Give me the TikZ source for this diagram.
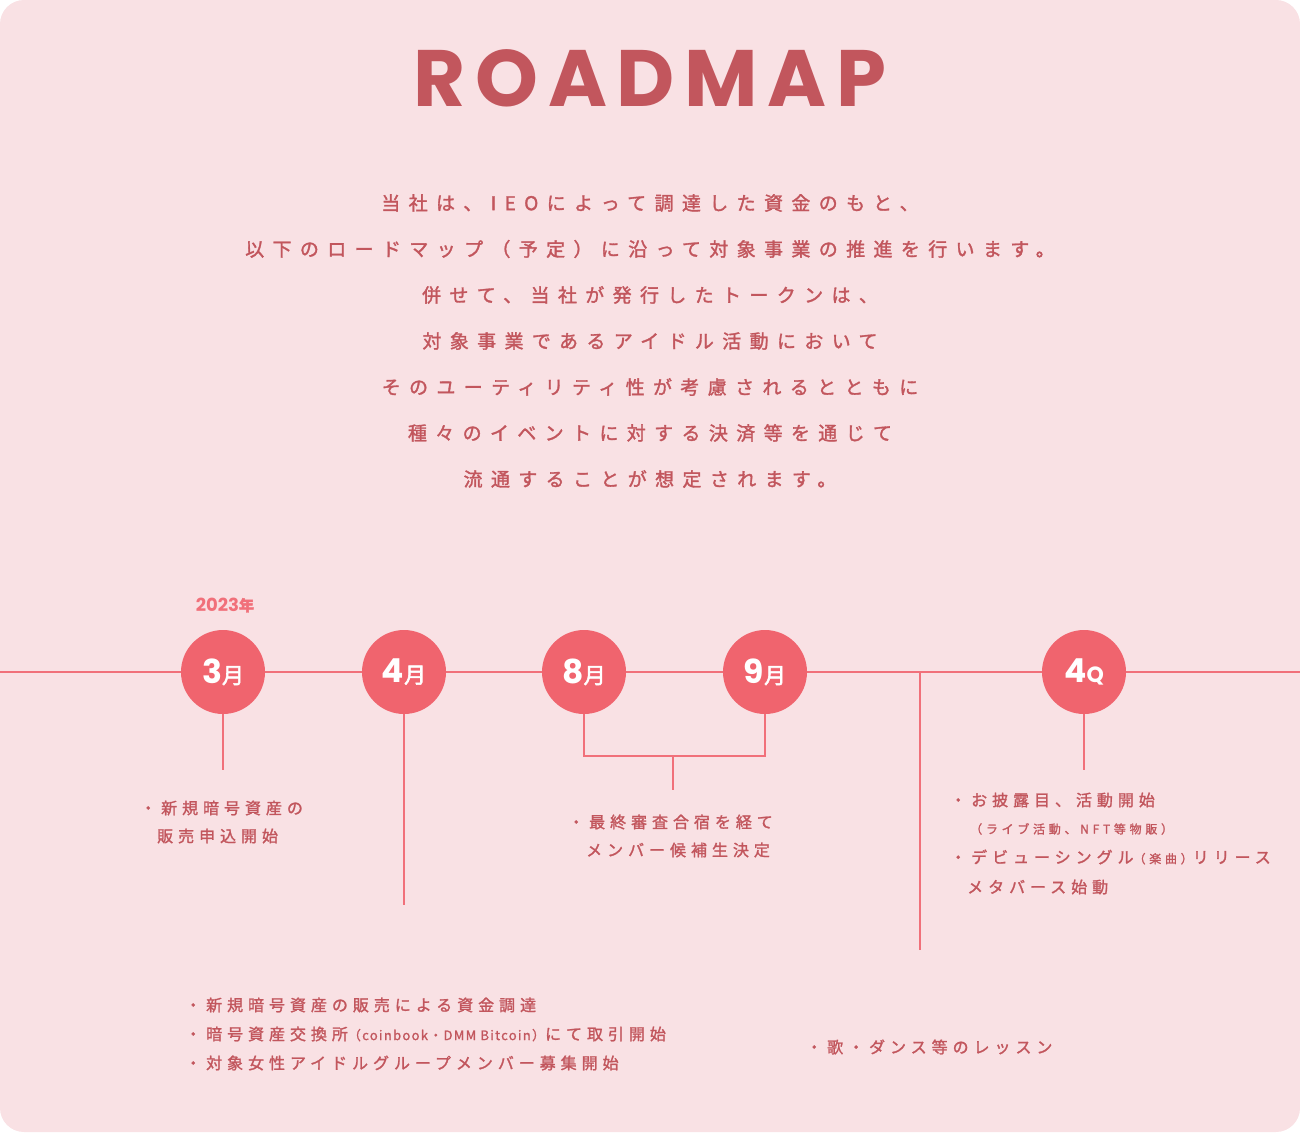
\documentclass[tikz,border=0pt]{standalone}
\usepackage{fontspec}
\newfontfamily\jp[LetterSpace=31,FakeBold=1.5]{Noto Sans CJK JP}
\newfontfamily\jpp[LetterSpace=44,FakeBold=1.6]{Noto Sans CJK JP}
\newfontfamily\jpl[LetterSpace=10,FakeBold=1.2]{Noto Sans CJK JP}
\newfontfamily\jpb[FakeBold=2.5]{Noto Sans CJK JP}
\newfontfamily\ttl[LetterSpace=12]{Poppins}
\newfontfamily\num{Poppins}
\definecolor{bg}{HTML}{F9E1E4}
\definecolor{tx}{HTML}{C2565D}
\definecolor{ln}{HTML}{F1707A}
\definecolor{cf}{HTML}{F0646E}
\tikzset{body/.style={text=tx,font=\jpp\fontsize{19}{22}\selectfont,inner sep=0},
 item/.style={text=tx,font=\jp\fontsize{16}{20}\selectfont,inner sep=0,anchor=west},
 mon/.style={circle,fill=cf,minimum size=84pt,inner sep=0,text=white},
 stem/.style={ln,line width=1.2pt}}
\begin{document}
\begin{tikzpicture}[x=1pt,y=-1pt]
\useasboundingbox (0,0) rectangle (1300,1132);
\fill[bg,rounded corners=24pt] (0,0) rectangle (1300,1132);
\node[text=tx,font=\ttl\bfseries\fontsize{80}{80}\selectfont] (title) at (650,78) {ROADMAP};
\foreach \t [count=\i] in {当社は、IEOによって調達した資金のもと、,以下のロードマップ（予定）に沿って対象事業の推進を行います。,併せて、当社が発行したトークンは、,対象事業であるアイドル活動において,そのユーティリティ性が考慮されるとともに,種々のイベントに対する決済等を通じて,流通することが想定されます。}
  \node[body] (p\i) at (650,{203+46*(\i-1)}) {\t};
\draw[ln,line width=2.5pt] (0,672) coordinate (L) -- (1300,672) coordinate (R);
\node[text=ln,font=\num\bfseries\fontsize{18}{18}\selectfont] (yr) at (225,605) {2023\jpb\fontsize{15}{15}\selectfont 年};
\foreach \n/\x/\a/\b in {m3/223/3/月,m4/404/4/月,m8/584/8/月,m9/765/9/月}
  \node[mon] (\n) at (\x,672) {{\num\bfseries\fontsize{33}{33}\selectfont\a}{\jpb\fontsize{22}{22}\selectfont\b}};
\node[mon] (mq) at (1084,672) {{\num\bfseries\fontsize{33}{33}\selectfont 4}{\num\bfseries\fontsize{22}{22}\selectfont Q}};
\coordinate (s3) at (223,770); \coordinate (s4) at (404,905);
\coordinate (sq) at (1084,770);
\coordinate (v0) at (920,672); \coordinate (v1) at (920,950);
\coordinate (b8) at (584,756); \coordinate (b9) at (765,756);
\coordinate (bc) at (673,756); \coordinate (bd) at (673,790);
\draw[stem] (m3) -- (s3); \draw[stem] (m4) -- (s4); \draw[stem] (mq) -- (sq);
\draw[stem] (v0) -- (v1);
\draw[stem] (m8) -- (b8) -- (b9) -- (m9); \draw[stem] (bc) -- (bd);
\node[item] (a1) at (140,808) {・新規暗号資産の};
\node[item] (a2) at (157,836) {販売申込開始};
\node[item] (c1) at (568,822) {・最終審査合宿を経て};
\node[item] (c2) at (586,850) {メンバー候補生決定};
\node[item] (d1) at (950,800) {・お披露目、活動開始};
\node[item,font=\jp\fontsize{12}{14}\selectfont] (d2) at (970,829) {（ライブ活動、NFT等物販）};
\node[item] (d3) at (950,857) {・デビューシングル{\fontsize{12}{14}\selectfont（楽曲）}リリース};
\node[item] (d4) at (967,887) {メタバース始動};
\node[item] (e1) at (185,1005) {・新規暗号資産の販売による資金調達};
\node[item] (e2) at (185,1034) {・暗号資産交換所{\jpl\fontsize{13}{14}\selectfont（coinbook・DMM Bitcoin）}にて取引開始};
\node[item] (e3) at (185,1063) {・対象女性アイドルグループメンバー募集開始};
\node[item] (f1) at (806,1047) {・歌・ダンス等のレッスン};
\end{tikzpicture}
\end{document}
